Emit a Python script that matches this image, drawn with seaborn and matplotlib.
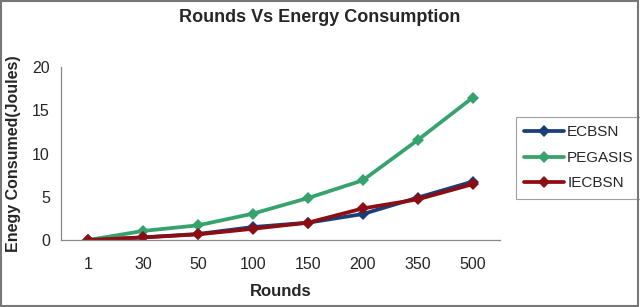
import numpy as np
import pandas as pd
import matplotlib
matplotlib.use("Agg")
import matplotlib.pyplot as plt
import seaborn as sns

# values
rounds = ["1", "30", "50", "100", "150", "200", "350", "500"]
ecbsn = [0.0, 0.3, 0.7, 1.5, 2.0, 3.0, 4.9, 6.75]
pegasis = [0.0, 1.05, 1.7, 3.05, 4.85, 6.9, 11.55, 16.45]
iecbsn = [0.0, 0.3, 0.65, 1.3, 2.0, 3.65, 4.7, 6.45]
series_names = ["ECBSN", "PEGASIS", "IECBSN"]
colors = ["#1b3d78", "#36a36c", "#8c0e12"]

df = pd.DataFrame({
    "Rounds": rounds * 3,
    "Energy": ecbsn + pegasis + iecbsn,
    "Protocol": np.repeat(series_names, len(rounds)),
})

sns.set_style("white")
plt.rcParams['font.family'] = ['Liberation Sans', 'DejaVu Sans']

fig = plt.figure(figsize=(6.4, 3.07), dpi=100)
ax = fig.add_axes([61 / 640, 1 - 240 / 307, (500 - 61) / 640, (240 - 67) / 307])

sns.lineplot(data=df, x="Rounds", y="Energy", hue="Protocol", palette=colors,
             marker="D", markersize=6.5, markeredgewidth=0, linewidth=2.7,
             sort=False, ax=ax)

ax.set_xlim(-0.5, len(rounds) - 0.5)
ax.set_ylim(0, 20)
ax.set_yticks([0, 5, 10, 15, 20])
ax.set_xticks(range(len(rounds)))
ax.set_xticklabels(rounds)
ax.set_xticks(np.arange(-0.5, len(rounds)), minor=True)
ax.tick_params(axis="x", which="major", length=0, pad=12, labelsize=11.5)
ax.tick_params(axis="x", which="minor", length=4, width=0.8, color="#888888", direction="out")
ax.tick_params(axis="y", length=4, width=0.8, color="#888888", direction="out", labelsize=11.5, pad=4)

for s in ["top", "right"]:
    ax.spines[s].set_visible(False)
for s in ["left", "bottom"]:
    ax.spines[s].set_color("#888888")
    ax.spines[s].set_linewidth(0.9)

ax.set_xlabel("Rounds", fontsize=12, fontweight="bold", labelpad=9)
ax.set_ylabel("Enegy Consumed(Joules)", fontsize=11.5, fontweight="bold", labelpad=8)
fig.text(0.5, 1 - 18 / 307, "Rounds Vs Energy Consumption", ha="center", va="center",
         fontsize=13, fontweight="bold")

leg = ax.legend(title=None, loc="upper left", bbox_to_anchor=(516 / 640, 1 - 117 / 307),
                bbox_transform=fig.transFigure, frameon=True, fancybox=False,
                fontsize=11, handlelength=2.6, borderpad=0.55, labelspacing=0.75,
                handletextpad=0.2, borderaxespad=0)
leg.get_frame().set_edgecolor("#888888")
leg.get_frame().set_linewidth(0.8)

# outer border of the picture
fig.patches.append(plt.Rectangle((0.002, 0.003), 0.995, 0.994, transform=fig.transFigure,
                                 fill=False, edgecolor="#777777", linewidth=1.5))

fig.savefig("out.png", dpi=100)
